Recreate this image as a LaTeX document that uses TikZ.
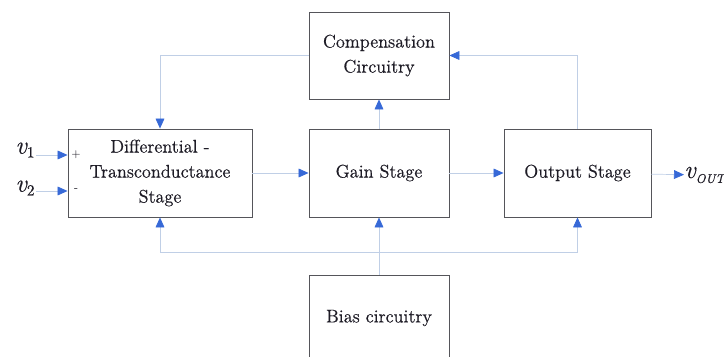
\documentclass[tikz,border=0pt]{standalone}
\usepackage{fontspec}
\newfontfamily\blkfont{Latin Modern Roman}[FakeBold=0.5]
\usepackage{tikz}
\usetikzlibrary{arrows.meta, positioning, calc}
\definecolor{blkgray}{RGB}{85,85,90}
\definecolor{lnblue}{RGB}{192,207,230}
\definecolor{tipblue}{RGB}{55,105,215}
\definecolor{txtdark}{RGB}{30,28,38}

\begin{document}
\begin{tikzpicture}[x=0.025cm,y=-0.025cm,
  blk/.style={draw=blkgray,line width=0.6pt,align=center,text=txtdark,
    font=\blkfont\fontsize{13}{17.8}\selectfont,inner sep=0pt},
  sig/.style={text=txtdark,inner sep=0pt,font=\blkfont\fontsize{18}{18}\selectfont\itshape},
  link/.style={draw=lnblue,line width=0.5pt,
    -{Triangle[length=2.5mm,width=2.2mm,color=tipblue]}}]
\clip (0,0) rectangle (724,356);
% Blocks
\node[blk,minimum width=3.5cm,minimum height=2.175cm] (comp) at (379,55.5) {Compensation\\Circuitry};
\node[blk,minimum width=4.6cm,minimum height=2.2cm] (diff) at (160,173) {Differential -\\Transconductance\\Stage};
\node[blk,minimum width=3.5cm,minimum height=2.2cm] (gain) at (379,173) {Gain Stage};
\node[blk,minimum width=3.675cm,minimum height=2.2cm] (out) at (577.5,173) {Output Stage};
\node[blk,minimum width=3.5cm,minimum height=2.15cm] (bias) at (379,318) {Bias circuitry};

% Inputs
\node[sig] (v1) at (25,150) {v\raisebox{-0.35ex}{\fontsize{11}{11}\selectfont\upshape 1}};
\node[sig] (v2) at (25,188) {v\raisebox{-0.35ex}{\fontsize{11}{11}\selectfont\upshape 2}};
\coordinate (in1) at (36,155);
\coordinate (in2) at (36,191);
\draw[link] (in1) -- (diff.west |- in1);
\draw[link] (in2) -- (diff.west |- in2);
\node[text=txtdark,font=\footnotesize] (plus) at (76,155) {+};
\node[text=txtdark,font=\footnotesize] (minus) at (76,190) {-};

% Signal path
\draw[link] (diff) -- (gain);
\draw[link] (gain) -- (out);
\node[sig,anchor=west] (vout) at (684,175) {v\raisebox{-0.45ex}{\fontsize{9}{9}\selectfont OUT}};
\draw[link] (out) -- (vout);

% Compensation loop
\draw[link] (comp.west) -| (diff.north);
\draw[link] (out.north) |- (comp.east);
\draw[link] (gain) -- (comp);

% Bias distribution
\coordinate (bus) at (379,252);
\draw[link] (bias) -- (gain);
\draw[link] (bus) -| (diff.south);
\draw[link] (bus) -| (out.south);
\end{tikzpicture}
\end{document}
